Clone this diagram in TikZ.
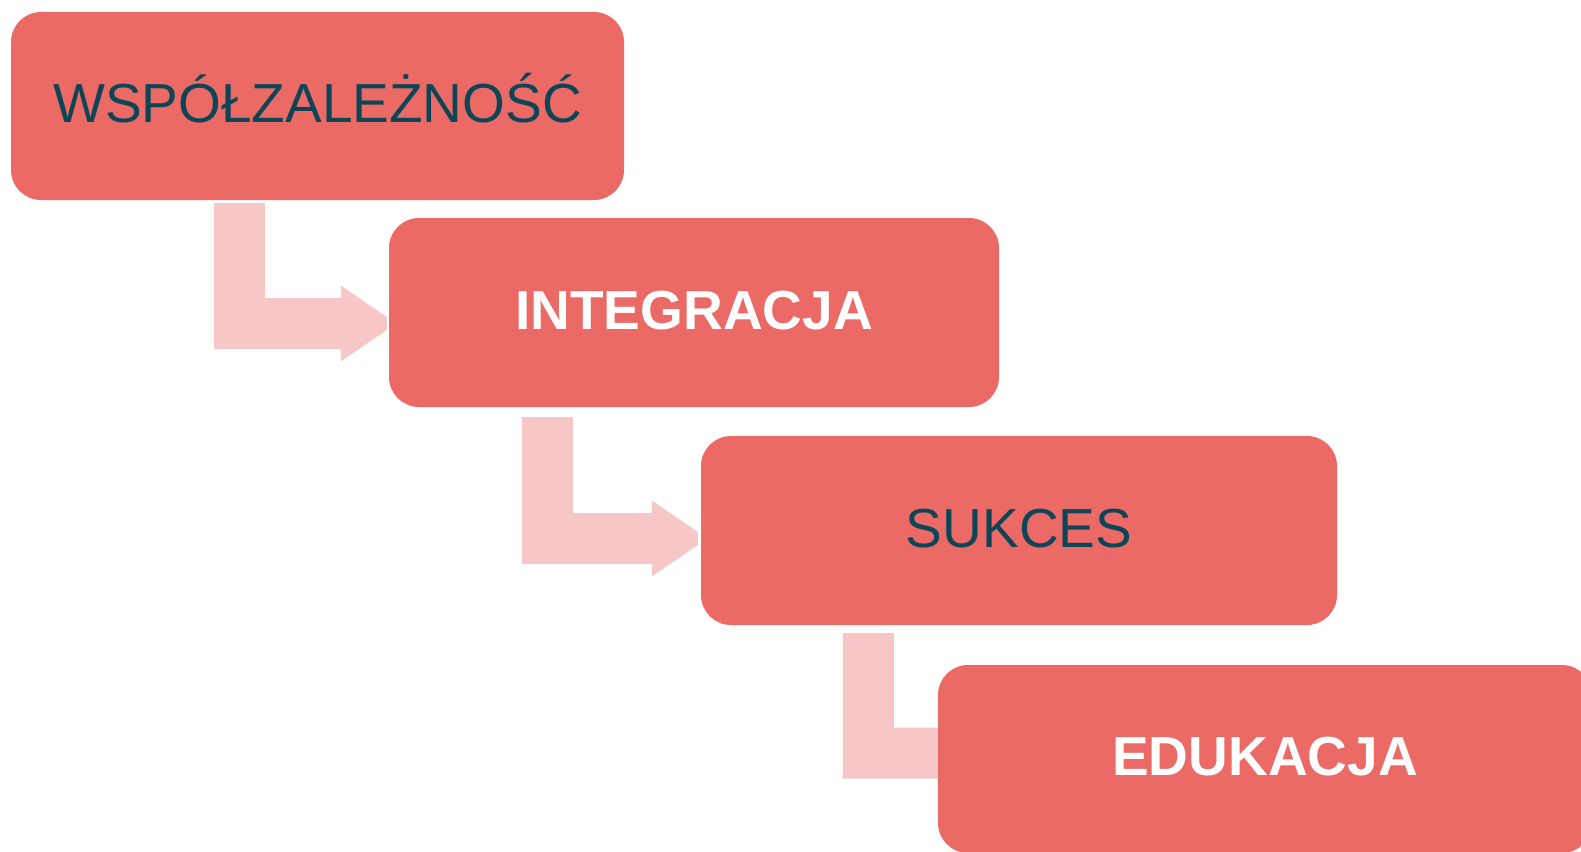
\documentclass[tikz,border=0pt]{standalone}
\usepackage{fontspec}
\setmainfont{Liberation Sans}
\usetikzlibrary{calc,positioning}

\definecolor{boxred}{RGB}{235,106,102}
\definecolor{arrowpink}{RGB}{247,199,200}
\definecolor{textteal}{RGB}{12,69,86}

\tikzset{
	stagebox/.style={rectangle, fill=boxred, rounded corners=30pt, inner sep=0pt,
		text height=39.4pt, text depth=6pt,
		font=\fontsize{55}{60}\selectfont},
	darktext/.style={text=textteal},
	lighttext/.style={text=white, font=\fontsize{55}{60}\selectfont\bfseries},
	arrowfill/.style={fill=arrowpink}
}

% bent arrow: #1 top left of the vertical bar, #2 tip of the head
\newcommand\bentarrow[2]{%
	\fill[arrowfill] let \p1=(#1), \p2=(#2) in
		(\x1,\y1) -- (\x1+51pt,\y1) -- (\x1+51pt,\y2+25.5pt) -- (\x2-46pt,\y2+25.5pt)
		-- (\x2-46pt,\y2+38pt) -- (\x2,\y2+6.5pt) -- (\x2,\y2-6.5pt) -- (\x2-46pt,\y2-38pt)
		-- (\x2-46pt,\y2-25.5pt) -- (\x1,\y2-25.5pt) -- cycle;}

\begin{document}
\begin{tikzpicture}[x=1pt, y=-1pt]
		\useasboundingbox (0,0) rectangle (1581,851);
		% stages
		\node[stagebox, darktext, minimum width=613pt, minimum height=188pt] (wspol) at (317.5,106) {WSPÓŁZALEŻNOŚĆ};
		\node[stagebox, lighttext, minimum width=610pt, minimum height=189pt] (integ) at (694,312.5) {INTEGRACJA};
		\node[stagebox, darktext, minimum width=636pt, minimum height=189pt] (sukces) at (1019,530.5) {SUKCES};
		% arrows between the stages
		\coordinate (a1) at ($(wspol.south west)+(203,3)$);
		\coordinate (t1) at ($(integ.west)+(-2,11)$);
		\coordinate (a2) at ($(integ.south west)+(133,10)$);
		\coordinate (t2) at ($(sukces.west)+(-3,8)$);
		\coordinate (a3) at ($(sukces.south west)+(142,8)$);
		\coordinate (t3) at ($(sukces.west)+(284,222.5)$);
		\bentarrow{a1}{t1}
		\bentarrow{a2}{t2}
		\bentarrow{a3}{t3}
		\node[stagebox, lighttext, minimum width=654pt, minimum height=188pt] (eduk) at (1265,759) {EDUKACJA};
	\end{tikzpicture}
\end{document}
